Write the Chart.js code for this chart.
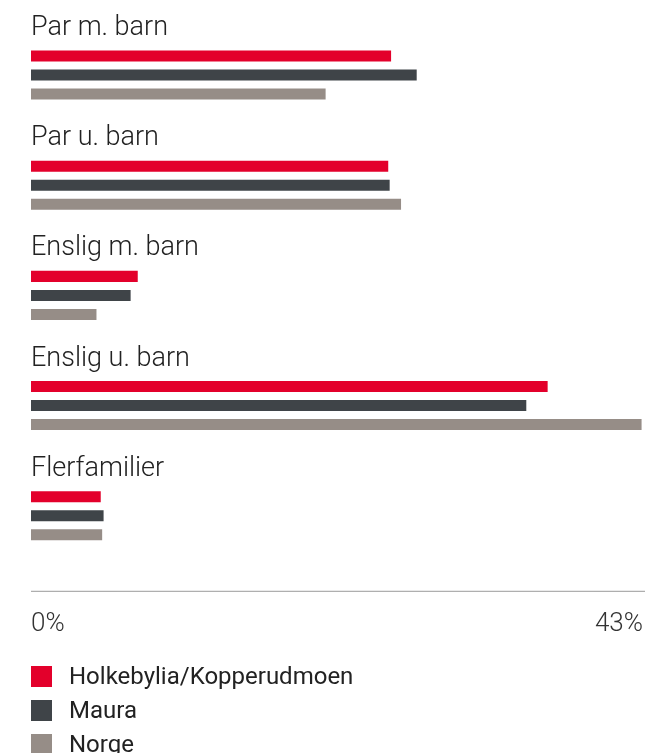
<!DOCTYPE html>
<html>
<head>
<meta charset="utf-8">
<script src="https://cdn.jsdelivr.net/npm/chart.js@4.4.0/dist/chart.umd.min.js"></script>
<style>
  html, body { margin: 0; padding: 0; background: #fff; width: 645px; height: 753px; overflow: hidden; }
  #wrap { position: relative; width: 645px; height: 680px; }
  #legend { position: absolute; left: 31px; top: 659px; font-family: Roboto, "Noto Sans", sans-serif; font-size: 24px; color: #222; }
  .item { height: 34px; display: flex; align-items: center; }
  .box { width: 21px; height: 21px; margin-right: 17px; flex: none; }
</style>
</head>
<body>
<div id="wrap"><canvas id="c" width="645" height="680"></canvas></div>
<div id="legend"></div>
<script>
const categories = ["Par m. barn", "Par u. barn", "Enslig m. barn", "Enslig u. barn", "Flerfamilier"];
const holkebylia = [25.3, 25.1, 7.5, 36.3, 4.9];
const maura = [27.1, 25.2, 7.0, 34.8, 5.1];
const norge = [20.7, 26.0, 4.6, 42.9, 5.0];
const seriesNames = ["Holkebylia/Kopperudmoen", "Maura", "Norge"];
const tickValues = [0, 43];
const tickLabels = ["0%", "43%"];

const colors = ["#e3002b", "#3f4448", "#968d87"];

const categoryLabels = {
  id: 'categoryLabels',
  afterDatasetsDraw(chart) {
    const ctx = chart.ctx;
    const y = chart.scales.y;
    ctx.save();
    ctx.font = '300 27px Roboto';
    ctx.fillStyle = '#222';
    ctx.textAlign = 'left';
    ctx.textBaseline = 'alphabetic';
    categories.forEach((c, i) => {
      ctx.fillText(c, chart.chartArea.left, y.getPixelForValue(i) - 40);
    });
    // axis line
    const x = chart.scales.x;
    ctx.strokeStyle = '#9a9a9a';
    ctx.lineWidth = 1;
    ctx.beginPath();
    ctx.moveTo(x.getPixelForValue(0), chart.chartArea.bottom + 20.5);
    ctx.lineTo(x.getPixelForValue(43) + 2, chart.chartArea.bottom + 20.5);
    ctx.stroke();
    ctx.restore();
  }
};

const chart = new Chart(document.getElementById('c'), {
  type: 'bar',
  data: {
    labels: categories,
    datasets: [
      { label: seriesNames[0], data: holkebylia, backgroundColor: colors[0] },
      { label: seriesNames[1], data: maura, backgroundColor: colors[1] },
      { label: seriesNames[2], data: norge, backgroundColor: colors[2] }
    ]
  },
  options: {
    indexAxis: 'y',
    responsive: false,
    animation: false,
    categoryPercentage: 57 / 110,
    barPercentage: 11 / 19,
    layout: { padding: { left: 31, right: 2, top: 20, bottom: 2 } },
    plugins: { legend: { display: false }, tooltip: { enabled: false } },
    scales: {
      y: { display: false },
      x: {
        min: 0, max: 43,
        grid: { display: false, drawTicks: false },
        border: { display: false },
        afterBuildTicks(scale) { scale.ticks = tickValues.map(v => ({ value: v })); },
        afterFit(scale) { scale.paddingLeft = 0; scale.paddingRight = 0; },
        ticks: {
          align: 'inner',
          padding: 38,
          autoSkip: false,
          maxRotation: 0,
          color: '#333',
          font: { family: 'Roboto', size: 26, weight: '300' },
          callback(value) { const i = tickValues.indexOf(value); return i >= 0 ? tickLabels[i] : ''; }
        }
      }
    }
  },
  plugins: [categoryLabels]
});

const legend = document.getElementById('legend');
chart.data.datasets.forEach(ds => {
  const item = document.createElement('div');
  item.className = 'item';
  const box = document.createElement('span');
  box.className = 'box';
  box.style.background = ds.backgroundColor;
  const t = document.createElement('span');
  t.textContent = ds.label;
  item.appendChild(box);
  item.appendChild(t);
  legend.appendChild(item);
});
</script>
</body>
</html>
